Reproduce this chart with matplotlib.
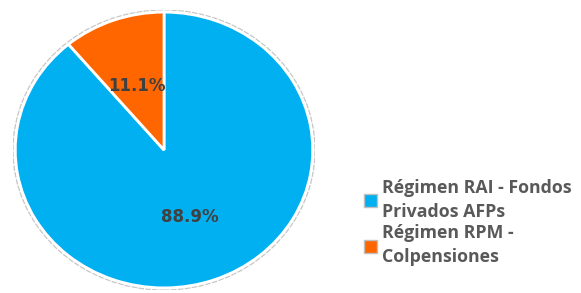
import matplotlib.pyplot as plt
from matplotlib.patches import Ellipse, Patch

# data
labels = ["Régimen RAI - Fondos\nPrivados AFPs", "Régimen RPM -\nColpensiones"]
shares = [88.9, 11.1]
colors = ["#00B0F0", "#FF6600"]

W, H = 581, 293
fig = plt.figure(figsize=(W / 100, H / 100), dpi=100)

# pie axes in pixel coords: center (164,150), rx 151, ry 140
cx, cy, rx, ry = 164, 150, 151, 140
ax = fig.add_axes([(cx - rx) / W, 1 - (cy + ry) / H, 2 * rx / W, 2 * ry / H])

wedges, _, autotexts = ax.pie(
    shares, colors=colors, startangle=90, counterclock=False,
    autopct="%1.1f%%", pctdistance=0.55, radius=0.985,
    wedgeprops=dict(edgecolor="white", linewidth=2),
    textprops=dict(color="#404040", fontsize=12, fontweight="bold"),
)
ax.add_patch(Ellipse((0, 0), 2.0, 2.0, fill=False, edgecolor="#c8c8c8",
                     linewidth=1.0, linestyle=(0, (4, 1)), zorder=0))
ax.set_xlim(-1.0, 1.0)
ax.set_ylim(-1.0, 1.0)
ax.set_aspect("auto")

# place labels like the reference
autotexts[0].set_position((0.17, -0.48))
autotexts[1].set_position((-0.18, 0.46))

handles = [Patch(facecolor=c, edgecolor="#bfbfbf", linewidth=1) for c in colors]
leg = fig.legend(handles, labels, loc="upper left",
                 bbox_to_anchor=(364 / W, 1 - 179 / H), frameon=False,
                 prop=dict(family="Open Sans", weight="bold", size=12.8),
                 handlelength=0.75, handleheight=0.75, handletextpad=0.25,
                 labelspacing=0.2, borderaxespad=0, borderpad=0)
for t in leg.get_texts():
    t.set_color("#595959")
    t.set_linespacing(1.42)

fig.savefig("out.png", dpi=100)
